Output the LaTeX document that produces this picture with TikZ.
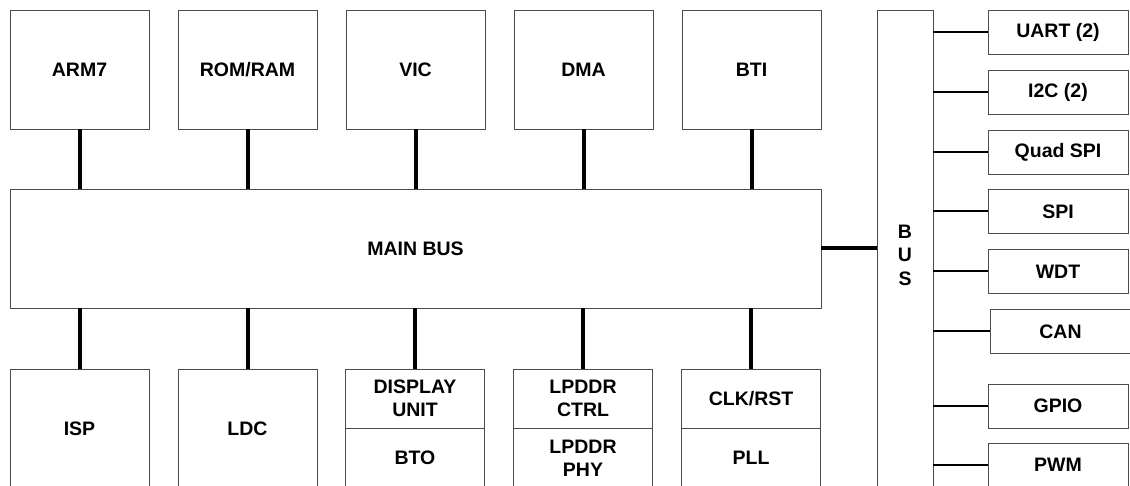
\documentclass[tikz,border=0pt]{standalone}
\usepackage{fontspec}
\setmainfont{Liberation Sans}
\usetikzlibrary{positioning}

\begin{document}
\begin{tikzpicture}[x=1pt,y=-1pt,node distance=168pt,on grid,
   blk/.style={draw=black!70,line width=0.9pt,minimum width=139pt,minimum height=119pt,
      inner sep=0pt,align=center,font=\bfseries\fontsize{19.5}{23}\selectfont},
   half/.style={blk,minimum height=59.5pt},
   per/.style={blk,minimum width=140pt,minimum height=44pt},
   bus/.style={line width=4pt},
   pbus/.style={line width=2pt}]
   \useasboundingbox (0,0) rectangle (1130,486);
   \clip (0,0) rectangle (1130,486);
   % top row
   \node [blk] (arm) at (79.5,69.5) {ARM7};
   \node [blk, right=of arm] (mem) {ROM/RAM};
   \node [blk, right=of mem] (vic) {VIC};
   \node [blk, right=of vic] (dma) {DMA};
   \node [blk, right=of dma] (bti) {BTI};
   \node [blk, minimum width=811pt] (main) at (415.5,248.5) {MAIN BUS};
   % bottom row
   \node [blk] (isp) at (79.5,428.5) {ISP};
   \node [blk, right=of isp] (ldc) {LDC};
   \node [half] (disp) at (415,398.75) {DISPLAY\\UNIT};
   \node [half, below=59.5pt of disp] (bto) {BTO};
   \node [half, right=of disp] (ctrl) {LPDDR\\CTRL};
   \node [half, below=59.5pt of ctrl] (phy) {LPDDR\\PHY};
   \node [half, right=of ctrl] (clk) {CLK/RST};
   \node [half, below=59.5pt of clk] (pll) {PLL};
   \foreach \n in {arm,mem,vic,dma,bti}
      \draw [bus] (\n.south) -- (\n.south |- main.north);
   \foreach \n in {isp,ldc,disp,ctrl,clk}
      \draw [bus] (\n.north) -- (\n.north |- main.south);
   % peripheral bus
   \node [blk, minimum width=56pt, minimum height=490pt,
      font=\bfseries\fontsize{19.5}{23.5}\selectfont] (pbus) at (905,255) {B\\U\\S};
   \draw [bus] (main.east) -- (main.east -| pbus.west);
   \node [per] (uart) at (1058,32) {UART (2)};
   \node [per, below=60pt of uart] (i2c) {I2C (2)};
   \node [per, below=60pt of i2c] (qspi) {Quad SPI};
   \node [per, below=59.5pt of qspi] (spi) {SPI};
   \node [per, below=60pt of spi] (wdt) {WDT};
   \node [per, below=60pt of wdt, xshift=2.5pt] (can) {CAN};
   \node [per] (gpio) at (1058,406) {GPIO};
   \node [per, below=59pt of gpio] (pwm) {PWM};
   \foreach \n in {uart,i2c,qspi,spi,wdt,can,gpio,pwm}
      \draw [pbus] (pbus.east |- \n.west) -- (\n.west);
\end{tikzpicture}
\end{document}
